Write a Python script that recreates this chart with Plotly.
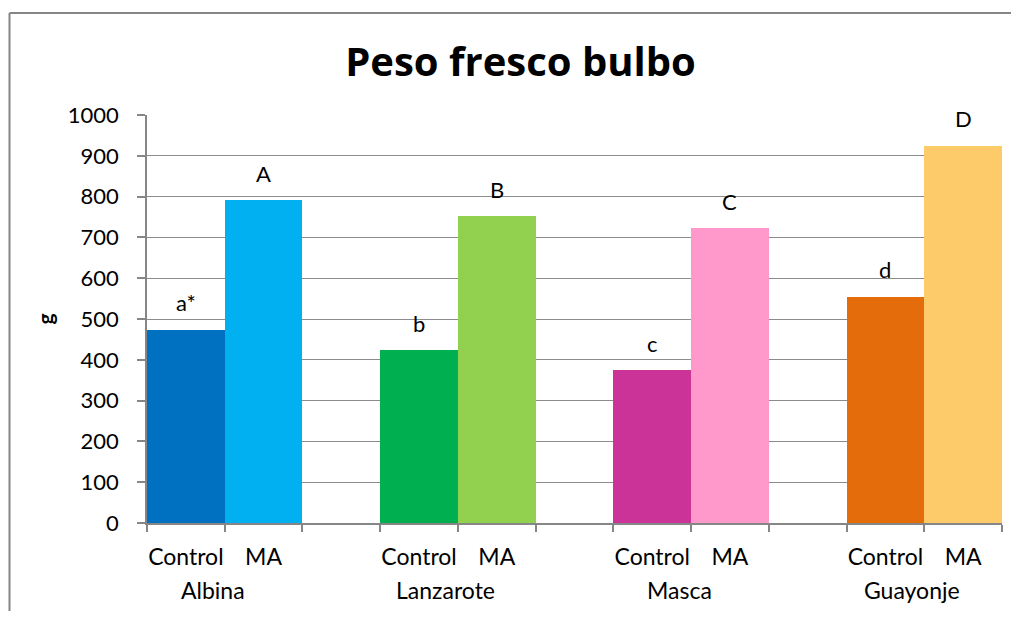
import plotly.graph_objects as go

# ---- data ----
groups = ["Albina", "Lanzarote", "Masca", "Guayonje"]
treatments = ["Control", "MA"]
control_vals = [474, 423, 374, 555]
ma_vals = [791, 752, 722, 925]
control_letters = ["a*", "b", "c", "d"]
ma_letters = ["A", "B", "C", "D"]
control_colors = ["#0070C0", "#00B050", "#CC3399", "#E46C0A"]
ma_colors = ["#00B0F0", "#92D050", "#FF99CC", "#FDCB6A"]
y_ticks = [0, 100, 200, 300, 400, 500, 600, 700, 800, 900, 1000]

FONT = "Lato"
OFF = 8  # default body margin of the html page
W, H = 1019 - 2 * OFF, 619 - 2 * OFF
PLOT_L, PLOT_R, PLOT_T, PLOT_B = 147, 1002, 114.5, 522.7  # page pixels
ML = PLOT_L - OFF
MR = OFF + W - PLOT_R
MT = PLOT_T - OFF
MB = OFF + H - PLOT_B

# slot layout: Control, MA, gap per group (no gap after last)
slot = 3
ctrl_x = [i * slot for i in range(len(groups))]
ma_x = [i * slot + 1 for i in range(len(groups))]
n_slots = len(groups) * slot - 1

fig = go.Figure()
fig.add_trace(go.Bar(x=ctrl_x, y=control_vals, width=1.0, marker=dict(color=control_colors, line=dict(width=0)),
                     showlegend=False, hoverinfo="y"))
fig.add_trace(go.Bar(x=ma_x, y=ma_vals, width=1.0, marker=dict(color=ma_colors, line=dict(width=0)),
                     showlegend=False, hoverinfo="y"))

annotations = []
for xs, vals, letters in [(ctrl_x, control_vals, control_letters), (ma_x, ma_vals, ma_letters)]:
    for x, v, t in zip(xs, vals, letters):
        annotations.append(dict(x=x, y=v, text=t, showarrow=False, yshift=27, yanchor="middle",
                                font=dict(family=FONT, size=22, color="#000000")))
for c, m, g in zip(ctrl_x, ma_x, groups):
    annotations.append(dict(x=(c + m) / 2, y=0, yref="paper", text=g, showarrow=False,
                            xshift=-12, yshift=-67, yanchor="middle",
                            font=dict(family=FONT, size=23, color="#000000")))

tickvals = []
ticktext = []
for c, m in zip(ctrl_x, ma_x):
    tickvals += [c, m]
    ticktext += treatments

pw = PLOT_R - PLOT_L
ph = PLOT_B - PLOT_T
bx0 = (9.5 - PLOT_L) / pw
bx1 = (OFF + W - PLOT_L) / pw
by0 = (PLOT_B - (OFF + H)) / ph
by1 = (PLOT_B - 12.5) / ph
border = dict(color="#868686", width=2)

fig.update_layout(
    width=W, height=H,
    margin=dict(l=ML, r=MR, t=MT, b=MB, pad=0),
    paper_bgcolor="white", plot_bgcolor="white",
    bargap=0,
    title=dict(text="<b>Peso fresco bulbo</b>", x=(520.5 - OFF) / W, xref="container", xanchor="center",
               y=1 - (61.5 - OFF) / H, yref="container", yanchor="middle",
               font=dict(family="Open Sans", size=40, color="#000000")),
    xaxis=dict(range=[-0.5, n_slots - 0.5], tickmode="array", tickvals=tickvals, ticktext=ticktext,
               ticks="", showgrid=False, zeroline=False, showline=True, linecolor="#868686", linewidth=1.5,
               tickfont=dict(family=FONT, size=23, color="#000000"), ticklabelstandoff=13,
               minor=dict(tickmode="array", tickvals=[v - 0.5 for v in range(n_slots + 1)],
                          ticks="outside", ticklen=7, tickcolor="#868686", tickwidth=1.5, showgrid=False)),
    yaxis=dict(range=[0, 1000], tickmode="array", tickvals=y_ticks, ticks="outside", ticklen=8,
               tickcolor="#868686", tickwidth=1.5, showgrid=True, gridcolor="#8C8C8C", gridwidth=1.3,
               zeroline=False, showline=True, linecolor="#868686", linewidth=1.5,
               tickfont=dict(family=FONT, size=22, color="#000000"), ticklabelstandoff=14,
               title=dict(text="<b>g</b>", font=dict(family=FONT, size=21, color="#000000"), standoff=8)),
    annotations=annotations,
    shapes=[
        dict(type="line", xref="paper", yref="paper", x0=bx0, x1=bx0, y0=by0, y1=by1, line=border, layer="above"),
        dict(type="line", xref="paper", yref="paper", x0=bx0, x1=bx1, y0=by1, y1=by1, line=border, layer="above"),
    ],
)

fig.write_html("out.html", post_script="document.documentElement.style.overflow='hidden';document.body.style.overflow='hidden';")
